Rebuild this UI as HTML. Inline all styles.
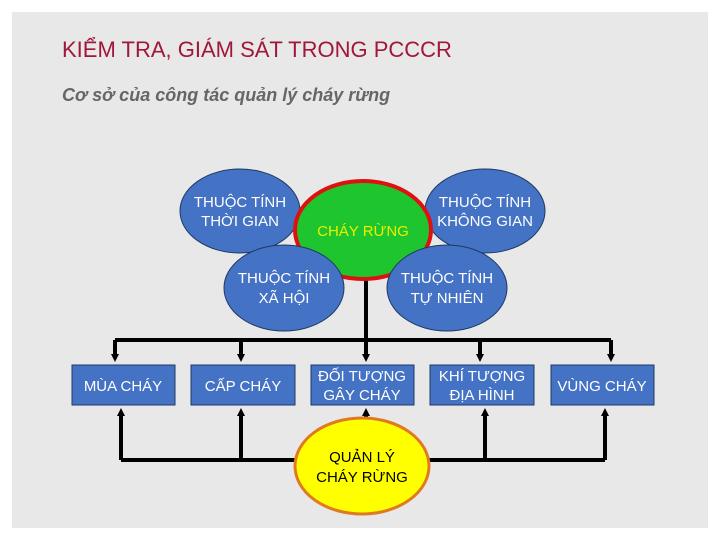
<!DOCTYPE html>
<html><head><meta charset="utf-8"><style>
html,body{margin:0;padding:0;background:#fff;}
svg{display:block}
</style></head><body>
<svg width="720" height="540" xmlns="http://www.w3.org/2000/svg" font-family="Liberation Sans, sans-serif">
<defs>
<marker id="ah" markerWidth="8" markerHeight="8" refX="4" refY="4" orient="auto" markerUnits="userSpaceOnUse">
<path d="M0,0 L8,4 L0,8 z" fill="#000"/>
</marker>
</defs>
<rect x="12" y="12" width="696" height="516" fill="#e8e8e8"/>
<text x="62" y="57" font-size="22" fill="#a0173a">KIỂM TRA, GIÁM SÁT TRONG PCCCR</text>
<text x="62" y="101" font-size="18" font-weight="bold" font-style="italic" fill="#666">Cơ sở của công tác quản lý cháy rừng</text>

<g stroke="#000" stroke-width="4" fill="none">
<line x1="366" y1="280" x2="366" y2="340"/>
<line x1="115" y1="340" x2="611" y2="340"/>
<line x1="121" y1="460" x2="605" y2="460"/>
</g>
<g stroke="#000" stroke-width="4" marker-end="url(#ah)">
<line x1="115" y1="340" x2="115" y2="358"/>
<line x1="241" y1="340" x2="241" y2="358"/>
<line x1="366" y1="340" x2="366" y2="358"/>
<line x1="480" y1="340" x2="480" y2="358"/>
<line x1="611" y1="340" x2="611" y2="358"/>
<line x1="121" y1="460" x2="121" y2="412"/>
<line x1="241" y1="460" x2="241" y2="412"/>
<line x1="366" y1="420" x2="366" y2="412"/>
<line x1="485" y1="460" x2="485" y2="412"/>
<line x1="605" y1="460" x2="605" y2="412"/>
</g>

<g fill="#4472c4" stroke="#1f3864" stroke-width="1">
<rect x="72" y="365" width="103" height="40"/>
<rect x="191" y="365" width="104" height="40"/>
<rect x="311" y="365" width="103" height="40"/>
<rect x="430" y="365" width="104" height="40"/>
<rect x="551" y="365" width="103" height="40"/>
</g>
<g fill="#fff" font-size="15" text-anchor="middle">
<text x="123" y="391">MÙA CHÁY</text>
<text x="243" y="391">CẤP CHÁY</text>
<text x="362" y="381">ĐỐI TƯỢNG</text>
<text x="362" y="400">GÂY CHÁY</text>
<text x="482" y="381">KHÍ TƯỢNG</text>
<text x="482" y="400">ĐỊA HÌNH</text>
<text x="602" y="391">VÙNG CHÁY</text>
</g>

<ellipse cx="240" cy="211" rx="60" ry="42" fill="#4472c4" stroke="#1f3864"/>
<ellipse cx="485" cy="211" rx="60" ry="42" fill="#4472c4" stroke="#1f3864"/>
<ellipse cx="363" cy="230" rx="68" ry="49" fill="#1ec52f" stroke="#e01010" stroke-width="4"/>
<ellipse cx="284" cy="288" rx="60" ry="43" fill="#4472c4" stroke="#1f3864"/>
<ellipse cx="447" cy="288" rx="60" ry="43" fill="#4472c4" stroke="#1f3864"/>
<g fill="#fff" font-size="15" text-anchor="middle">
<text x="240" y="207">THUỘC TÍNH</text>
<text x="240" y="226">THỜI GIAN</text>
<text x="485" y="207">THUỘC TÍNH</text>
<text x="485" y="226">KHÔNG GIAN</text>
<text x="284" y="283">THUỘC TÍNH</text>
<text x="284" y="303">XÃ HỘI</text>
<text x="447" y="283">THUỘC TÍNH</text>
<text x="447" y="303">TỰ NHIÊN</text>
</g>
<text x="363" y="236" font-size="15" fill="#e8f000" text-anchor="middle">CHÁY RỪNG</text>

<ellipse cx="362" cy="466" rx="67" ry="48" fill="#ffff00" stroke="#e07a20" stroke-width="3"/>
<g font-size="15" fill="#000" text-anchor="middle">
<text x="362" y="462">QUẢN LÝ</text>
<text x="362" y="482">CHÁY RỪNG</text>
</g>
</svg>
</body></html>
